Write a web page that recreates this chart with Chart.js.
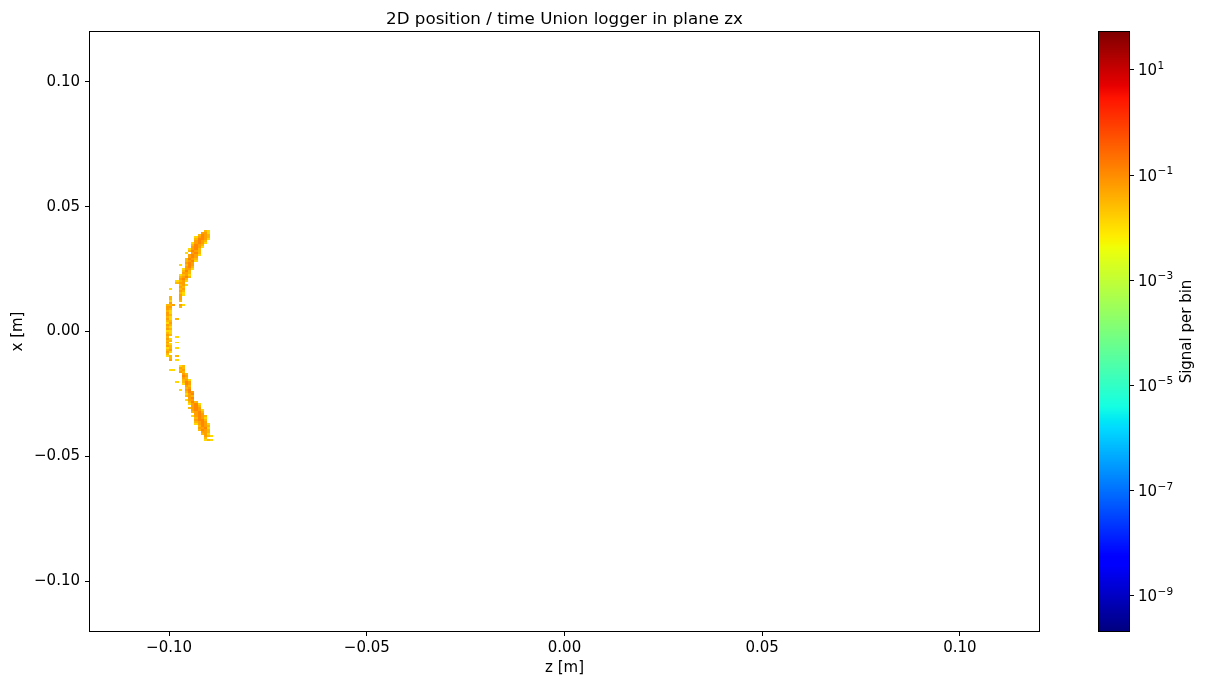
<!DOCTYPE html>
<html><head><meta charset="utf-8">
<script src="https://cdn.jsdelivr.net/npm/chart.js@4/dist/chart.umd.min.js"></script>
<style>
html,body{margin:0;padding:0;background:#fff}
#wrap{position:relative;width:1205px;height:687px;background:#fff}
#main{position:absolute;left:0;top:0}
#cbar{position:absolute;left:1090px;top:0}
</style>
</head><body>
<div id="wrap"><canvas id="main" width="1205" height="687"></canvas><canvas id="cbar" width="115" height="687"></canvas></div>
<script>
// ---------------- DATA ----------------
const chartTitle = '2D position / time Union logger in plane zx';
const zTicks = [-0.10, -0.05, 0.00, 0.05, 0.10];
const zTickLabels = ['\u22120.10', '\u22120.05', '0.00', '0.05', '0.10'];
const xTicks = [-0.10, -0.05, 0.00, 0.05, 0.10];
const xTickLabels = ['\u22120.10', '\u22120.05', '0.00', '0.05', '0.10'];
const cbTicks = [1e-9, 1e-7, 1e-5, 1e-3, 1e-1, 1e1];
const cbTickBase = ['10', '10', '10', '10', '10', '10'];
const cbTickExp = ['\u22129', '\u22127', '\u22125', '\u22123', '\u22121', '1'];
const colorMin = 2.16e-10, colorMax = 52.7;
const binZ = 0.0008, binX = 0.0008;
const A = 0.012, B = 0.03, C = 0.06, D = 0.12, _ = null;
const rowX = [
 0.0404,0.0396,0.0388,0.0380,0.0372,0.0364,0.0356,0.0348,0.0340,0.0332,
 0.0324,0.0316,0.0308,0.0300,0.0292,0.0284,0.0276,0.0268,0.0260,0.0252,
 0.0244,0.0236,0.0228,0.0220,0.0212,0.0204,0.0196,0.0188,0.0180,0.0172,
 0.0164,0.0156,0.0148,0.0140,0.0132,0.0124,0.0116,0.0108,0.0100,0.0092,
 0.0084,0.0076,0.0068,0.0060,0.0052,0.0044,0.0036,0.0028,0.0020,0.0012,
 0.0004,-0.0004,-0.0012,-0.0020,-0.0028,-0.0036,-0.0044,-0.0052,-0.0060,-0.0068,
 -0.0076,-0.0084,-0.0092,-0.0100,-0.0108,-0.0116,
 -0.0140,-0.0148,-0.0156,-0.0164,
 -0.0172,-0.0180,-0.0188,-0.0196,-0.0204,-0.0212,-0.0220,-0.0228,-0.0236,-0.0244,
 -0.0252,-0.0260,-0.0268,-0.0276,-0.0284,-0.0292,-0.0300,-0.0308,-0.0316,-0.0324,
 -0.0332,-0.0340,-0.0348,-0.0356,-0.0364,-0.0372,-0.0380,-0.0388,-0.0396,-0.0404,
 -0.0412,-0.0420,-0.0428,-0.0436
];
const rowZ0 = [
 -0.0908,-0.0916,-0.0924,-0.0932,-0.0932,-0.0932,-0.0940,-0.0940,-0.0940,-0.0948,
 -0.0948,-0.0956,-0.0948,-0.0948,-0.0956,-0.0956,-0.0956,-0.0972,-0.0956,-0.0964,
 -0.0964,-0.0964,-0.0972,-0.0972,-0.0972,-0.0980,-0.0980,-0.0972,-0.0972,-0.0996,
 -0.0972,-0.0972,-0.0972,-0.0996,-0.0996,-0.0996,-0.0996,-0.1004,-0.1004,-0.1004,
 -0.1004,-0.1004,-0.1004,-0.1004,-0.1004,-0.1004,-0.1004,-0.1004,-0.1004,-0.1004,
 -0.1004,-0.1004,-0.1004,-0.1004,-0.1004,-0.1004,-0.1004,-0.1004,-0.1004,-0.1004,
 -0.1004,-0.1004,-0.1004,-0.1004,-0.0996,-0.0996,
 -0.0972,-0.0972,-0.0996,-0.0972,
 -0.0964,-0.0964,-0.0964,-0.0964,-0.0980,-0.0964,-0.0956,-0.0956,-0.0972,-0.0956,
 -0.0956,-0.0956,-0.0948,-0.0956,-0.0948,-0.0948,-0.0940,-0.0948,-0.0940,-0.0940,
 -0.0932,-0.0940,-0.0932,-0.0932,-0.0932,-0.0932,-0.0924,-0.0924,-0.0924,-0.0916,
 -0.0916,-0.0908,-0.0908,-0.0908
];
const rowV = [
 [B,A],[C,C,A],[B,D,C,B],[A,C,D,C,B],[B,D,D,C,A],[C,D,C,B],[A,C,D,C,A],[B,D,C,B],[C,D,C,A],[A,C,D,B],
 [B,D,C,B],[A,_,C,D,B],[C,D,C,A],[C,D,C],[B,D,C,B],[B,C,D,A],[C,D,C],[A,_,B,D,C],[C,D,B],[A,C,C,A],
 [B,D,B],[C,C,B],[A,B,C,A],[B,C,D,B],[C,D,B],[A,B,C,A],[B,C,C],[B,C,A],[C,B],[A,_,_,B,C],
 [C,B],[B,A],[C,A],[B,_,_,C],[B,_,_,C],[A,_,_,B],[C],[B,B,C,_,C,A],[C,C,_,_,B],[C,B],
 [B,A],[C,A],[C,B],[B,A],[C,A,_,B],[B,B],[A,C],[C,B],[B,A],[C,B],
 [A,A],[B,A],[C,B],[B,_,_,A],[C,A],[B,B],[C,_,_,A],[B,A],[C,B],[A,B,_,A],
 [B,C],[C,A],[B],[A,B,_,B],[B],[C,_,A],
 [A,B],[C,B],[A,A,_,B,C],[C,B],
 [C,B],[D,C],[C,B],[B,C,A],[A,_,B,D,C],[A,D,C],[C,B],[B,C],[A,_,C,D],[B,D,C],
 [A,C,D],[B,C,B],[C,D],[A,C,C],[B,D,B],[A,C,D,A],[C,D,B],[B,C,D,C],[C,D,C,A],[B,C,D,B],
 [C,D,C],[A,C,D,C,B],[B,D,C,A],[C,D,D,B],[B,C,D,C],[A,C,D,C,A],[B,D,C,B],[C,C,D,A],[B,D,C,B],[C,C,B],
 [B,C,A],[C,B,A],[B],[A,B,A]
];

// ---------------- COLOUR MAP (jet) ----------------
const jetR = [[0,0],[0.35,0],[0.66,1],[0.89,1],[1,0.5]];
const jetG = [[0,0],[0.125,0],[0.375,1],[0.64,1],[0.91,0],[1,0]];
const jetB = [[0,0.5],[0.11,1],[0.34,1],[0.65,0],[1,0]];
function seg(nodes, t){
  if (t <= nodes[0][0]) return nodes[0][1];
  for (let i = 1; i < nodes.length; i++) {
    if (t <= nodes[i][0]) {
      const [t0,v0] = nodes[i-1], [t1,v1] = nodes[i];
      return v0 + (v1 - v0) * (t - t0) / (t1 - t0);
    }
  }
  return nodes[nodes.length-1][1];
}
function jet(t){
  t = Math.max(0, Math.min(1, t));
  return 'rgb(' + Math.round(255*seg(jetR,t)) + ',' + Math.round(255*seg(jetG,t)) + ',' + Math.round(255*seg(jetB,t)) + ')';
}
function normLog(v){
  const l0 = Math.log10(colorMin), l1 = Math.log10(colorMax);
  return (Math.log10(v) - l0) / (l1 - l0);
}

const cells = [];
rowX.forEach((xc, i) => {
  rowV[i].forEach((v, n) => {
    if (v === null) return;
    cells.push({x: rowZ0[i] + n * binZ, y: xc, v: v});
  });
});

const FONT = "'DejaVu Sans', sans-serif";
const FS = 15;
Chart.defaults.font.family = FONT;
Chart.defaults.color = '#000';

const heatPlugin = {
  id: 'heat',
  beforeDatasetsDraw(chart) {
    const {ctx, chartArea: ca} = chart;
    const xs = chart.scales.x, ys = chart.scales.y;
    ctx.save();
    ctx.beginPath(); ctx.rect(ca.left, ca.top, ca.right - ca.left, ca.bottom - ca.top); ctx.clip();
    cells.forEach(c => {
      const l = Math.round(xs.getPixelForValue(c.x - binZ/2));
      const r = Math.round(xs.getPixelForValue(c.x + binZ/2));
      const t = Math.round(ys.getPixelForValue(c.y + binX/2));
      const b = Math.round(ys.getPixelForValue(c.y - binX/2));
      ctx.fillStyle = jet(normLog(c.v));
      ctx.fillRect(l, t, r - l, b - t);
    });
    ctx.restore();
  }
};
const framePlugin = {
  id: 'frame',
  afterDraw(chart) {
    const {ctx, chartArea: ca} = chart;
    ctx.save();
    ctx.strokeStyle = '#000'; ctx.lineWidth = 1;
    ctx.strokeRect(Math.round(ca.left) - 0.5, Math.round(ca.top) - 0.5, Math.round(ca.right - ca.left) + 1, Math.round(ca.bottom - ca.top) + 1);
    ctx.restore();
  }
};

new Chart(document.getElementById('main'), {
  type: 'scatter',
  data: {datasets: [{data: cells.map(c => ({x: c.x, y: c.y})), pointRadius: 0, showLine: false}]},
  options: {
    responsive: false, animation: false, events: [],
    layout: {padding: {left: 0, right: 166, top: 0, bottom: 0}},
    plugins: {
      legend: {display: false}, tooltip: {enabled: false},
      title: {display: true, text: chartTitle, fullSize: false, color: '#000',
              font: {size: 16.7, weight: 'normal'}, padding: {top: 10, bottom: 2}}
    },
    scales: {
      x: {
        type: 'linear', min: -0.12, max: 0.12,
        afterBuildTicks: s => { s.ticks = zTicks.map(v => ({value: v})); },
        afterFit: s => { s.height = 56; },
        ticks: {callback: (v, i) => zTickLabels[i], font: {size: FS}, color: '#000', padding: 3, maxRotation: 0, autoSkip: false},
        grid: {drawOnChartArea: false, drawTicks: true, tickLength: 5, color: '#000'},
        border: {display: false},
        title: {display: true, text: 'z [m]', font: {size: FS}, color: '#000', padding: {top: 0, bottom: 10}}
      },
      y: {
        type: 'linear', min: -0.12, max: 0.12,
        afterBuildTicks: s => { s.ticks = xTicks.map(v => ({value: v})); },
        afterFit: s => { s.width = 90; },
        ticks: {callback: (v, i) => xTickLabels[i], font: {size: FS}, color: '#000', padding: 5, autoSkip: false},
        grid: {drawOnChartArea: false, drawTicks: true, tickLength: 5, color: '#000'},
        border: {display: false},
        title: {display: true, text: 'x [m]', font: {size: FS}, color: '#000', padding: {top: 9, bottom: 0}}
      }
    }
  },
  plugins: [heatPlugin, framePlugin]
});

const cbarPlugin = {
  id: 'cbarFill',
  beforeDatasetsDraw(chart) {
    const {ctx, chartArea: ca} = chart;
    const ys = chart.scales.y;
    ctx.save();
    for (let py = Math.floor(ca.top); py < Math.ceil(ca.bottom); py++) {
      const v = ys.getValueForPixel(py + 0.5);
      ctx.fillStyle = jet(normLog(v));
      ctx.fillRect(ca.left, py, ca.right - ca.left, 1);
    }
    ctx.restore();
  },
  afterDraw(chart) {
    const {ctx, chartArea: ca} = chart;
    const ys = chart.scales.y;
    ctx.save();
    ctx.strokeStyle = '#000'; ctx.lineWidth = 1;
    ctx.strokeRect(Math.round(ca.left) - 0.5, Math.round(ca.top) - 0.5, Math.round(ca.right - ca.left) + 1, Math.round(ca.bottom - ca.top) + 1);
    // tick labels as 10 with raised exponent
    ctx.fillStyle = '#000';
    ctx.textAlign = 'left'; ctx.textBaseline = 'alphabetic';
    cbTicks.forEach((v, i) => {
      const py = ys.getPixelForValue(v);
      const x0 = ca.right + 9;
      const base = py + 0.365 * FS;
      ctx.font = FS + 'px ' + FONT;
      ctx.fillText(cbTickBase[i], x0, base);
      const w = ctx.measureText(cbTickBase[i]).width;
      ctx.font = (FS * 0.7) + 'px ' + FONT;
      ctx.fillText(cbTickExp[i], x0 + w + 0.5, base - 0.45 * FS);
    });
    ctx.translate(97, (ca.top + ca.bottom) / 2);
    ctx.rotate(-Math.PI / 2);
    ctx.font = FS + 'px ' + FONT;
    ctx.textAlign = 'center'; ctx.textBaseline = 'middle';
    ctx.fillText('Signal per bin', 0, 0);
    ctx.restore();
  }
};

new Chart(document.getElementById('cbar'), {
  type: 'scatter',
  data: {datasets: []},
  options: {
    responsive: false, animation: false, events: [],
    layout: {padding: {left: 9, right: 0, top: 32, bottom: 56}},
    plugins: {legend: {display: false}, tooltip: {enabled: false}, title: {display: false}},
    scales: {
      x: {display: false, type: 'linear', min: 0, max: 1},
      y: {
        type: 'logarithmic', position: 'right', min: colorMin, max: colorMax,
        afterBuildTicks: s => { s.ticks = cbTicks.map(v => ({value: v})); },
        afterFit: s => { s.width = 76; },
        ticks: {callback: () => '', font: {size: FS}, color: '#000', padding: 4, autoSkip: false},
        grid: {drawOnChartArea: false, drawTicks: true, tickLength: 5, color: '#000'},
        border: {display: false}
      }
    }
  },
  plugins: [cbarPlugin]
});
</script>
</body></html>
